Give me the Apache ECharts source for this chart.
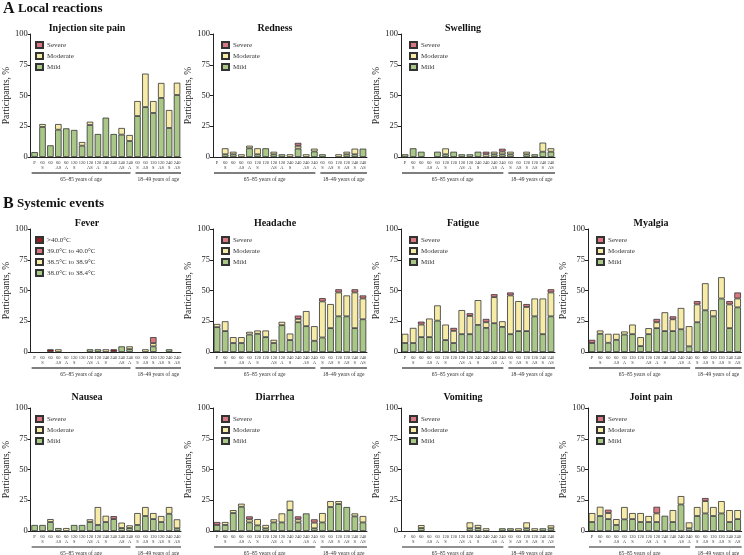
<!DOCTYPE html>
<html><head><meta charset="utf-8">
<script src="https://cdn.jsdelivr.net/npm/echarts@6/dist/echarts.min.js"></script>
<style>html,body{margin:0;padding:0;background:#fff}#c{width:744px;height:555px}</style>
</head><body><div id="c"></div>
<script>
// ---------- data ----------
const tickLabels = ['P','60\nS','60','60\nAS','60\nA','120\nS','120','120\nAS','120\nA','240\nS','240','240\nAS','240\nA','60\nS','60\nAS','120\nS','120\nAS','240\nS','240\nAS'];
const groupLabels = ['65–85 years of age','18–49 years of age'];
const groupSizes = [13, 6];
const yTicks = [0, 25, 50, 75, 100];

const painMild     = [4, 24.4, 9.5, 22.2, 23.3, 22, 9.2, 26, 18.7, 32, 18.7, 18.2, 13, 33.3, 40.6, 35.8, 48, 23.6, 50.4];
const painModerate = [0, 2.4, 0, 4.6, 0, 0, 3, 2.7, 0, 0, 0, 5.4, 4.9, 12.2, 27.2, 9.7, 12.2, 14.6, 10];
const painSevere   = [0,0,0,0,0,0,0,0,0,0,0,0,0,0,0,0,0,0,0];

const rednessMild     = [0, 2.2, 2.2, 0, 7.1, 2.2, 7.1, 2.2, 2.2, 0, 6.8, 0, 4.5, 2.2, 0, 0, 2.2, 2.2, 6.8];
const rednessModerate = [0, 4.9, 2.1, 2.2, 2.1, 4.9, 0, 2.1, 0, 2.2, 2.3, 2.2, 2.3, 0, 0, 2.2, 2.1, 4.6, 0];
const rednessSevere   = [0,0,0,0,0,0,0,0,0,0,2.4,0,0,0,0,0,0,0,0];

const swellingMild     = [2.2, 7.1, 4.3, 0, 4.3, 2.2, 4.3, 2.2, 2.2, 4.3, 0, 2.2, 2.2, 2.2, 0, 2.2, 2.2, 4.3, 4.3];
const swellingModerate = [0,0,0,0,0,4.8,0,0,0,0,2.2,2.1,2.2,2.1,0,2.1,0,7.4,2.8];
const swellingSevere   = [0,0,0,0,0,0,0,0,0,0,2.1,0,2.3,0,0,0,0,0,0];

const fever380 = [0,0,0,0,0,0,0,2.2,2.2,0,0,4.6,2.3,0,0,4.6,0,2.2,0];
const fever385 = [0,0,0,2.2,0,0,0,0,0,2.2,0,0,2.3,0,2.2,2.6,0,0,0];
const fever390 = [0,0,0,0,0,0,0,0,0,0,0,0,0,0,0,4.9,0,0,0];
const fever400 = [0,0,2.2,0,0,0,0,0,0,0,2.2,0,0,0,0,0,0,0,0];

const headacheMild     = [20.2, 17, 7.3, 7.3, 14.2, 14.8, 12.1, 7.3, 21.8, 9.7, 24.2, 21, 9.1, 11.8, 19.4, 29, 29, 19.4, 26.6];
const headacheModerate = [2.6, 8, 4.8, 4.8, 2.2, 2.7, 5.4, 2.6, 2.7, 5.3, 2.7, 12.3, 11.9, 29.3, 19.6, 19.4, 17, 29, 16.9];
const headacheSevere   = [0,0,0,0,0,0,0,0,0,0,2.7,0,0,2.7,0,2.6,0,2.6,2.5];

const fatigueMild     = [7.3, 7.3, 12.1, 12.1, 25.5, 9.7, 7.3, 14.5, 14.5, 22, 19.6, 23.4, 20.4, 14.5, 17, 17, 29, 14.5, 29];
const fatigueModerate = [7.5, 12.3, 10.2, 15.1, 12.4, 12.6, 9.9, 19.6, 14.8, 20.2, 4.6, 21.2, 4.6, 31.5, 24.4, 19.6, 14.5, 29, 19.4];
const fatigueSevere   = [0,0,2.4,0,0,0,2.4,0,2.2,0,2.7,2.4,0,2.4,0,2.4,0,0,2.6];

const myalgiaMild     = [7.3, 14.8, 7.5, 9.9, 14.2, 14.5, 4.8, 14.5, 19.4, 17, 17, 18.5, 4.6, 24.2, 33.9, 29, 43.5, 19.4, 36.3];
const myalgiaModerate = [0, 2.7, 7.3, 4.9, 2.5, 7.8, 7.3, 4.9, 4.8, 15.3, 9.6, 17.3, 16.4, 14.5, 22, 5, 17.3, 19.3, 7.2];
const myalgiaSevere   = [2.6,0,0,0,0,0,0,0,2.7,0,2.4,0,0,2.7,0,0,0,2.7,4.9];

const nauseaMild     = [4.9, 4.9, 7.3, 2.4, 0, 4.9, 4.9, 7.3, 4.9, 7.3, 9.7, 2.4, 2.4, 4.9, 12.2, 9.7, 7.3, 14, 2.2];
const nauseaModerate = [0,0,2.4,0,2.4,0,0,2.2,14.6,5.1,0,4.4,2.2,9.7,7.3,4.9,4.9,5.5,7.3];
const nauseaSevere   = [0,0,0,0,0,0,0,0,0,0,2.4,0,0,0,0,0,0,0,0];

const diarrheaMild     = [4.9, 4.9, 14.6, 19.7, 7, 4.6, 2.2, 7, 7, 17, 7, 14.3, 2.2, 7, 19.5, 21.9, 19.5, 11.9, 7];
const diarrheaModerate = [0, 2.4, 2.4, 2.5, 2.5, 5.1, 2.7, 2.5, 7.3, 7.6, 2.5, 0, 4.6, 7.6, 4.8, 2.4, 0, 2.4, 5.2];
const diarrheaSevere   = [2.4,0,0,0,2.4,0,0,0,0,0,2.4,0,2.7,0,0,0,0,0,0];

const vomitingMild     = [0,0,2.4,0,0,0,0,0,2.2,2.4,0,0,2.2,2.2,0,2.2,0,2.2,2.2];
const vomitingModerate = [0,0,2.4,0,0,0,0,0,4.8,2.5,2.2,0,0,0,2.2,4.8,2.2,0,2.4];
const vomitingSevere   = [0,0,0,0,0,0,0,0,0,0,0,0,0,0,0,0,0,0,0];

const jointMild     = [7.3, 12.2, 9.7, 4.9, 9.5, 9.7, 7.3, 7.3, 7.3, 12.4, 7.3, 21.6, 2.2, 12.2, 14.3, 12.2, 14.3, 7.3, 9.7];
const jointModerate = [7.3, 7.5, 4.9, 4.8, 10, 4.9, 7.3, 4.9, 7, 0, 9.7, 6.8, 4.8, 7.3, 10, 7.3, 10, 9.7, 7.3];
const jointSevere   = [0,0,2.7,0,0,0,0,0,5.4,0,0,0,0,0,2.5,0,0,0,0];

// ---------- style / layout ----------
const FONT = '"Liberation Serif", "DejaVu Serif", serif';
const COL = { mild: '#a9c787', moderate: '#f6eca8', severe: '#d97880', dark: '#8e1f22' };
const gradeNames = ['Mild', 'Moderate', 'Severe'];
const feverNames = ['38.0°C to 38.4°C', '38.5°C to 38.9°C', '39.0°C to 40.0°C', '>40.0°C'];

const panels = [
  { t: 'Injection site pain', r: 0, c: 0, d: [painMild, painModerate, painSevere] },
  { t: 'Redness', r: 0, c: 1, d: [rednessMild, rednessModerate, rednessSevere] },
  { t: 'Swelling', r: 0, c: 2, d: [swellingMild, swellingModerate, swellingSevere] },
  { t: 'Fever', r: 1, c: 0, d: [fever380, fever385, fever390, fever400], fever: true },
  { t: 'Headache', r: 1, c: 1, d: [headacheMild, headacheModerate, headacheSevere] },
  { t: 'Fatigue', r: 1, c: 2, d: [fatigueMild, fatigueModerate, fatigueSevere] },
  { t: 'Myalgia', r: 1, c: 3, d: [myalgiaMild, myalgiaModerate, myalgiaSevere] },
  { t: 'Nausea', r: 2, c: 0, d: [nauseaMild, nauseaModerate, nauseaSevere] },
  { t: 'Diarrhea', r: 2, c: 1, d: [diarrheaMild, diarrheaModerate, diarrheaSevere] },
  { t: 'Vomiting', r: 2, c: 2, d: [vomitingMild, vomitingModerate, vomitingSevere] },
  { t: 'Joint pain', r: 2, c: 3, d: [jointMild, jointModerate, jointSevere] }
];
const rowTops = [34, 229, 408], plotH = 123;
const colLefts = [27, 213, 401, 588], plotW = 154;
const titleX = [87, 275, 463, 651], titleY = [28, 223, 397];

const chart = echarts.init(document.getElementById('c'), null, { renderer: 'canvas' });

const grid = [], xAxis = [], yAxis = [], series = [], legend = [];
panels.forEach((p, i) => {
  grid.push({ left: colLefts[p.c], top: rowTops[p.r], width: plotW, height: plotH });
  xAxis.push({
    type: 'category', gridIndex: i, data: tickLabels.map((_, k) => 'c' + k),
    axisTick: { show: false },
    axisLine: { lineStyle: { color: '#222', width: 1 } },
    axisLabel: { interval: 0, fontSize: 4.5, lineHeight: 5, margin: 3, color: '#333', fontFamily: FONT,
      formatter: (v, k) => tickLabels[k] }
  });
  yAxis.push({
    type: 'value', gridIndex: i, min: yTicks[0], max: yTicks[yTicks.length - 1], interval: 25,
    axisLine: { show: true, lineStyle: { color: '#222', width: 1 } },
    axisTick: { show: true, length: 3, lineStyle: { color: '#222' } },
    splitLine: { show: false },
    axisLabel: { fontSize: 8.5, margin: 3, color: '#222', fontFamily: FONT },
    name: 'Participants, %', nameLocation: 'middle', nameGap: 19,
    nameTextStyle: { fontSize: 9.5, color: '#222', fontFamily: FONT }
  });
  const names = p.fever ? feverNames : gradeNames;
  const colors = p.fever ? [COL.mild, COL.moderate, COL.severe, COL.dark] : [COL.mild, COL.moderate, COL.severe];
  p.d.forEach((arr, k) => {
    series.push({
      type: 'bar', name: names[k], xAxisIndex: i, yAxisIndex: i, stack: 's' + i,
      barCategoryGap: '18%', animation: false,
      itemStyle: { color: colors[k], borderColor: '#333', borderWidth: 0.8 },
      data: arr.map(v => (v ? v : null))
    });
  });
  legend.push({
    orient: 'vertical', left: colLefts[p.c] + 3, top: rowTops[p.r] + 2,
    itemWidth: 7, itemHeight: 6, itemGap: 3, icon: 'rect', selectedMode: false,
    data: names.slice().reverse(),
    textStyle: { fontSize: 7, color: '#333', fontFamily: FONT, padding: [0, 0, 0, -1] }
  });
});

chart.setOption({ animation: false, grid, xAxis, yAxis, series, legend });

// ---------- texts and group brackets ----------
const graphic = [];
const headRich = { a: { fontSize: 16, fontWeight: 'bold', fontFamily: FONT, fill: '#111' }, b: { fontSize: 13, fontWeight: 'bold', fontFamily: FONT, fill: '#111' } };
graphic.push({ type: 'text', x: 3, y: 9, style: { text: '{a|A} {b|Local reactions}', verticalAlign: 'middle', rich: headRich } });
graphic.push({ type: 'text', x: 3, y: 204, style: { text: '{a|B} {b|Systemic events}', verticalAlign: 'middle', rich: headRich } });

panels.forEach((p, i) => {
  graphic.push({ type: 'text', x: titleX[p.c], y: titleY[p.r],
    style: { text: p.t, align: 'center', verticalAlign: 'middle', fontSize: 10, fontWeight: 'bold', fontFamily: FONT, fill: '#111' } });
  const y0 = chart.convertToPixel({ yAxisIndex: i }, 0);
  const xa = chart.convertToPixel({ xAxisIndex: i }, 0);
  const xb = chart.convertToPixel({ xAxisIndex: i }, 1);
  const bw = xb - xa;
  let start = 0;
  groupSizes.forEach((n, g) => {
    const x1 = chart.convertToPixel({ xAxisIndex: i }, start) - bw / 2 + (g === 0 ? 1 : 2);
    const x2 = chart.convertToPixel({ xAxisIndex: i }, start + n - 1) + bw / 2 - (g === 0 ? 3 : 0);
    graphic.push({ type: 'line', shape: { x1, y1: y0 + 16, x2, y2: y0 + 16 },
      style: { stroke: p.r === 2 ? '#222' : '#555', lineWidth: p.r === 2 ? 1 : 1.5 } });
    graphic.push({ type: 'text', x: (x1 + x2) / 2, y: y0 + 23,
      style: { text: groupLabels[g], align: 'center', verticalAlign: 'middle', fontSize: 5.5, fontFamily: FONT, fill: '#333' } });
    start += n;
  });
});
chart.setOption({ graphic });
</script>
</body></html>
